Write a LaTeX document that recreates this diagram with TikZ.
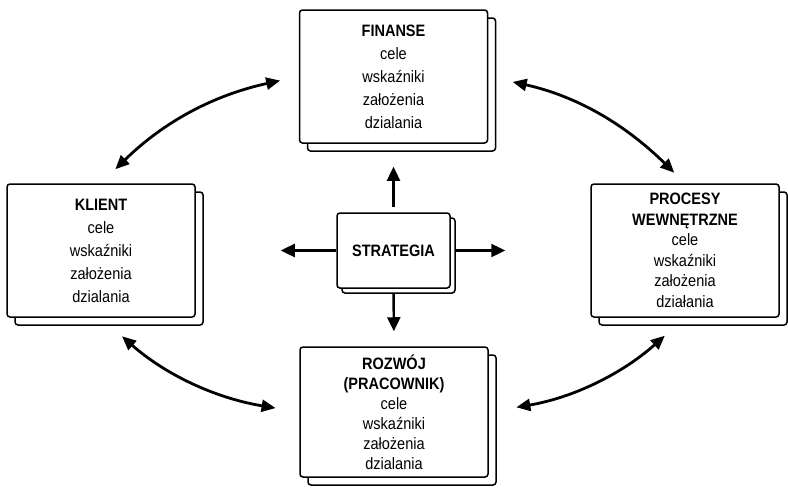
\documentclass[tikz,border=0pt]{standalone}
\usepackage{fontspec}
\setmainfont[FakeStretch=0.88]{Liberation Sans}
\usetikzlibrary{arrows.meta,shadows}

\begin{document}
\begin{tikzpicture}[x=1pt,y=-1pt]
                \useasboundingbox (0,0) rectangle (788,493);
                \begin{scope}[every node/.style={draw, line width=1.5pt, rounded corners=3pt, fill=white, align=center, minimum width=188pt, minimum height=133pt, inner sep=2pt, font=\fontsize{16.5}{23}\selectfont, copy shadow={shadow xshift=8pt, shadow yshift=-8pt}}]
                        \node (F) at (393.5,76.5) {\textbf{FINANSE}\\cele\\wskaźniki\\założenia\\dzialania};
                        \node (K) at (101,250.5) {\textbf{KLIENT}\\cele\\wskaźniki\\założenia\\dzialania};
                        \node (P) at (685,250.5) [font=\fontsize{16.5}{20.5}\selectfont] {\textbf{PROCESY}\\\textbf{WEWNĘTRZNE}\\cele\\wskaźniki\\założenia\\działania};
                        \node (R) at (394,412) [minimum height=130pt, font=\fontsize{16.5}{20}\selectfont] {\textbf{ROZWÓJ}\\\textbf{(PRACOWNIK)}\\cele\\wskaźniki\\założenia\\dzialania};
                \end{scope}
                \node (S) at (393.5,250.5) [draw, line width=1.5pt, rounded corners=3pt, fill=white, minimum width=113pt, minimum height=75pt, font=\fontsize{16.5}{20}\selectfont\bfseries, copy shadow={shadow xshift=5pt, shadow yshift=-5pt}] {STRATEGIA};
                \begin{scope}[every path/.style={line width=2.4pt, ->, >={Triangle[length=14pt,width=13pt]}}]
                        \path (S.north) edge [shorten <=5pt, shorten >=23pt] (F.south);
                        \path (S.west) edge [shorten >=85pt] (K.east);
                        \path (S.east) edge [shorten <=5pt, shorten >=85pt] (P.west);
                        \path (S.south) edge [shorten <=5pt, shorten >=15pt] (R.north);
                \end{scope}
                \begin{scope}[every path/.style={line width=2.8pt, <->, >={Triangle[length=14pt,width=12pt]}}]
                        \path (F.west) edge [bend right=16, shorten <=19pt, shorten >=20pt] (K.north);
                        \path (F.east) edge [bend left=16, shorten <=25pt, shorten >=15pt] (P.north);
                        \path (K.south) edge [bend right=16, shorten <=28pt, shorten >=24pt] (R.west);
                        \path (R.east) edge [bend right=16, shorten <=28pt, shorten >=27pt] (P.south);
                \end{scope}
        \end{tikzpicture}
\end{document}
